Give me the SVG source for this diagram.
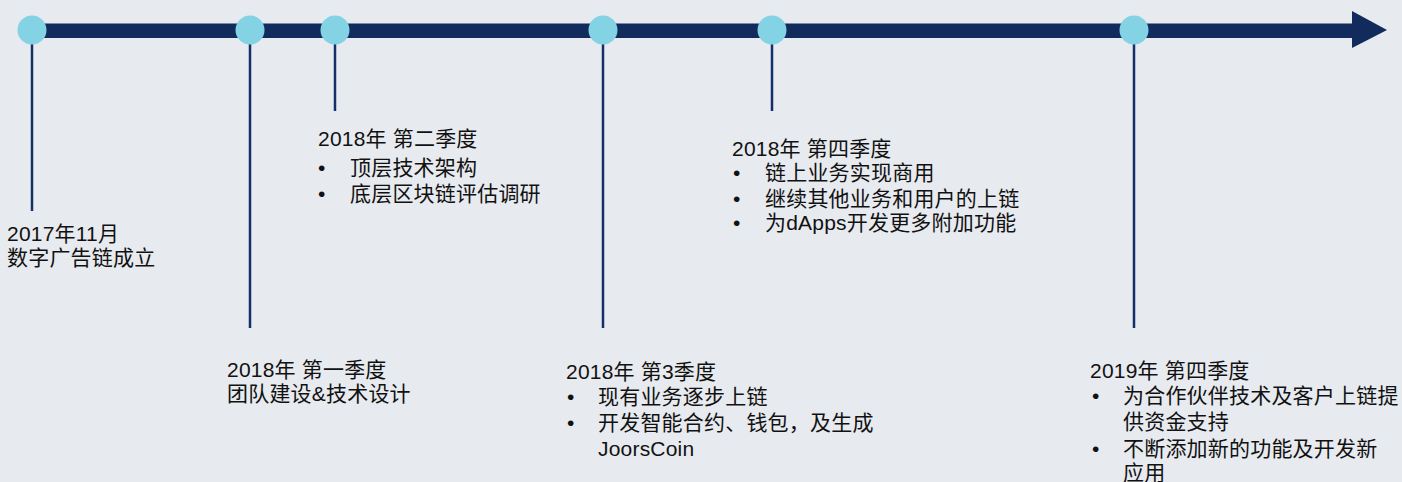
<svg xmlns="http://www.w3.org/2000/svg" width="1402" height="482" viewBox="0 0 1402 482">
<style>
.t{font-family:"Liberation Sans","Noto Sans CJK SC",sans-serif;font-size:21px;letter-spacing:0.2px;fill:#111111}
.dot{fill:#83D3E5}
.stem{stroke:#13306A;stroke-width:2.5;fill:none}
</style>
<rect width="1402" height="482" fill="#E7EAEF"/>
<g id="connectors">
<rect x="32" y="23.5" width="1322" height="14.5" fill="#102B5C"/>
<polygon points="1352,11 1387,30 1352,48" fill="#102B5C"/>
<line class="stem" x1="32" y1="30" x2="32" y2="211"/>
<line class="stem" x1="250" y1="30" x2="250" y2="328"/>
<line class="stem" x1="335" y1="30" x2="335" y2="111"/>
<line class="stem" x1="603" y1="30" x2="603" y2="328"/>
<line class="stem" x1="772" y1="30" x2="772" y2="111"/>
<line class="stem" x1="1134" y1="30" x2="1134" y2="328"/>
</g>
<g id="n2017">
<circle class="dot" cx="32" cy="30" r="14.5"/>
<text class="t" x="7" y="241">2017年11月</text>
<text class="t" x="7" y="265">数字广告链成立</text>
</g>
<g id="n2018q1">
<circle class="dot" cx="250" cy="30" r="14.5"/>
<text class="t" x="227" y="377">2018年 第一季度</text>
<text class="t" x="227" y="401">团队建设&amp;技术设计</text>
</g>
<g id="n2018q2">
<circle class="dot" cx="335" cy="30" r="14.5"/>
<text class="t" x="318" y="146">2018年 第二季度</text>
<text class="t" x="318" y="175">•</text><text class="t" x="350" y="175">顶层技术架构</text>
<text class="t" x="318" y="201">•</text><text class="t" x="350" y="201">底层区块链评估调研</text>
</g>
<g id="n2018q3">
<circle class="dot" cx="603" cy="30" r="14.5"/>
<text class="t" x="566" y="379">2018年 第3季度</text>
<text class="t" x="567" y="404">•</text><text class="t" x="598" y="404">现有业务逐步上链</text>
<text class="t" x="567" y="430">•</text><text class="t" x="598" y="430">开发智能合约、钱包，及生成</text>
<text class="t" x="598" y="456">JoorsCoin</text>
</g>
<g id="n2018q4">
<circle class="dot" cx="772" cy="30" r="14.5"/>
<text class="t" x="732" y="156">2018年 第四季度</text>
<text class="t" x="733" y="180">•</text><text class="t" x="765" y="180">链上业务实现商用</text>
<text class="t" x="733" y="206">•</text><text class="t" x="765" y="206">继续其他业务和用户的上链</text>
<text class="t" x="733" y="230">•</text><text class="t" x="765" y="230">为dApps开发更多附加功能</text>
</g>
<g id="n2019q4">
<circle class="dot" cx="1134" cy="30" r="14.5"/>
<text class="t" x="1090" y="378">2019年 第四季度</text>
<text class="t" x="1092" y="403">•</text><text class="t" x="1123" y="403">为合作伙伴技术及客户上链提</text>
<text class="t" x="1123" y="429">供资金支持</text>
<text class="t" x="1092" y="456">•</text><text class="t" x="1123" y="456">不断添加新的功能及开发新</text>
<text class="t" x="1123" y="480">应用</text>
</g>
</svg>
